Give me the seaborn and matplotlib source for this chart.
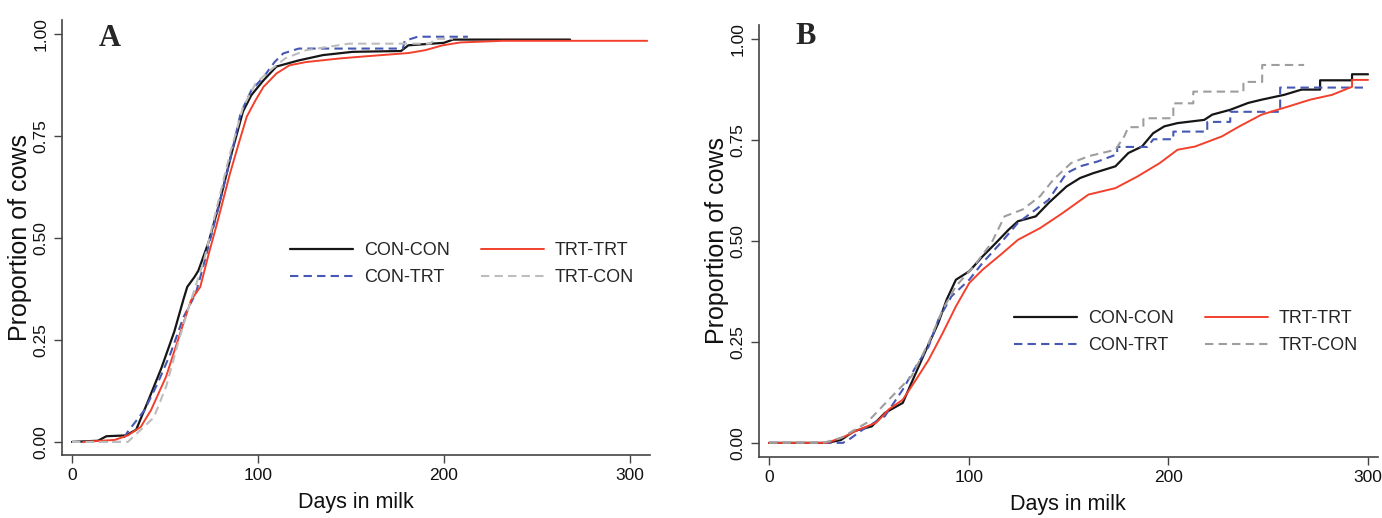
import pandas as pd
import matplotlib
matplotlib.use("Agg")
import matplotlib.pyplot as plt
import seaborn as sns

# ---- panel A (days in milk, cumulative proportion) ----
A_CONCON_DAY = [0, 14, 18.5, 29, 34.5, 40, 48, 55, 60, 62, 66, 68, 73.5, 79, 86, 92, 96.5, 103, 110, 122, 135, 151, 177, 181, 200, 205, 268]
A_CONCON_P = [0, 0.003, 0.014, 0.016, 0.03, 0.09, 0.18, 0.27, 0.35, 0.38, 0.405, 0.42, 0.49, 0.58, 0.71, 0.81, 0.85, 0.886, 0.92, 0.935, 0.948, 0.956, 0.958, 0.972, 0.978, 0.986, 0.986]

A_TRTTRT_DAY = [6, 23, 30, 37, 42.5, 50.6, 57.5, 64, 69, 73.5, 78, 85, 89.6, 94, 98.7, 103, 110, 117, 126, 144.5, 158, 181, 190, 199.5, 209, 231.6, 309.5]
A_TRTTRT_P = [0, 0.005, 0.016, 0.037, 0.078, 0.16, 0.257, 0.347, 0.38, 0.46, 0.535, 0.658, 0.73, 0.797, 0.837, 0.87, 0.903, 0.923, 0.931, 0.94, 0.945, 0.953, 0.96, 0.972, 0.979, 0.983, 0.983]

A_CONTRT_DAY = [0, 26.5, 30, 39, 46, 53, 60, 66.6, 71, 78, 85, 90.7, 96.5, 103, 109, 113.6, 122, 178, 179, 186, 213]
A_CONTRT_P = [0, 0, 0.025, 0.078, 0.143, 0.217, 0.306, 0.364, 0.437, 0.56, 0.69, 0.805, 0.862, 0.894, 0.931, 0.952, 0.964, 0.964, 0.983, 0.993, 0.993]

A_TRTCON_DAY = [0, 30, 37, 44, 50.6, 57.5, 64, 71, 78, 85, 92, 98.7, 105.6, 114.7, 126, 149, 193, 195, 205]
A_TRTCON_P = [0, 0, 0.03, 0.06, 0.135, 0.25, 0.347, 0.445, 0.576, 0.707, 0.82, 0.878, 0.907, 0.94, 0.96, 0.976, 0.976, 0.988, 0.988]

# ---- panel B ----
B_CONCON_DAY = [0, 29, 36, 42.6, 51.5, 58, 67, 71.4, 78, 84.8, 89, 93.6, 100.3, 107, 113.6, 120, 124.7, 133.6, 140, 149, 155.8, 162.4, 173.5, 180, 186.8, 192.4, 198, 204.6, 218, 222, 231, 240, 246.7, 258, 266.7, 276, 276, 292, 292, 300]
B_CONCON_P = [0, 0, 0.007, 0.029, 0.041, 0.074, 0.099, 0.149, 0.223, 0.297, 0.355, 0.404, 0.425, 0.462, 0.495, 0.528, 0.549, 0.561, 0.594, 0.635, 0.656, 0.668, 0.685, 0.718, 0.734, 0.767, 0.784, 0.792, 0.80, 0.813, 0.825, 0.842, 0.85, 0.862, 0.875, 0.875, 0.898, 0.898, 0.913, 0.913]

B_TRTTRT_DAY = [0, 29, 38, 45, 53.7, 60, 67, 73.7, 80, 87, 93.6, 100.3, 107, 116, 124.7, 135.8, 147, 160, 173.5, 184.6, 195.7, 204.6, 213.4, 226.8, 235.6, 246.7, 260, 271, 282, 292, 292, 300]
B_TRTTRT_P = [0, 0, 0.016, 0.033, 0.05, 0.083, 0.107, 0.157, 0.206, 0.272, 0.338, 0.396, 0.429, 0.466, 0.503, 0.532, 0.569, 0.615, 0.631, 0.66, 0.693, 0.726, 0.734, 0.759, 0.784, 0.813, 0.833, 0.85, 0.862, 0.882, 0.899, 0.899]

B_CONTRT_DAY = [0, 37, 40, 47, 58, 67, 73.7, 80, 84.8, 91.4, 100.3, 107, 116, 124.7, 133.6, 140, 149, 155.8, 164.6, 174.4, 174.4, 189.5, 192.5, 202.5, 202.5, 219.5, 219.5, 231, 231, 256, 256, 300]
B_CONTRT_P = [0, 0, 0.008, 0.033, 0.066, 0.132, 0.19, 0.239, 0.305, 0.363, 0.404, 0.446, 0.495, 0.545, 0.578, 0.602, 0.668, 0.685, 0.697, 0.715, 0.733, 0.733, 0.752, 0.752, 0.771, 0.771, 0.795, 0.795, 0.82, 0.82, 0.88, 0.88]

B_TRTCON_DAY = [0, 27, 36, 49, 60, 71.4, 80, 87, 93.6, 102.5, 111.4, 118, 127, 135.8, 142.4, 151.3, 160, 173.5, 178, 180, 187.5, 187.5, 202.5, 202.5, 212.5, 212.5, 237.6, 237.6, 247, 247, 268]
B_TRTCON_P = [0, 0, 0.012, 0.05, 0.107, 0.165, 0.248, 0.33, 0.388, 0.437, 0.495, 0.561, 0.578, 0.611, 0.652, 0.693, 0.71, 0.726, 0.76, 0.782, 0.782, 0.804, 0.804, 0.841, 0.841, 0.87, 0.87, 0.894, 0.894, 0.936, 0.936]

GROUPS = ["CON-CON", "CON-TRT", "TRT-TRT", "TRT-CON"]
X_TICKS = [0, 100, 200, 300]
Y_TICKS = [0.0, 0.25, 0.5, 0.75, 1.0]
Y_TICKLABELS = ["0.00", "0.25", "0.50", "0.75", "1.00"]

sns.set_style("ticks")
plt.rcParams["font.family"] = ["Liberation Sans", "DejaVu Sans"]


def draw_panel(ax, series, gray, xlim, ylim, legend_xy, letter_xy, letter):
    styles = {
        "CON-CON": dict(color="#161616", linestyle="-", linewidth=1.6),
        "CON-TRT": dict(color="#4658b4", linestyle=(0, (4, 2.5)), linewidth=1.5),
        "TRT-TRT": dict(color="#f2402c", linestyle="-", linewidth=1.4),
        "TRT-CON": dict(color=gray, linestyle=(0, (4, 2.5)), linewidth=1.5),
    }
    for name in GROUPS:
        days, props = series[name]
        df = pd.DataFrame({"day": days, "prop": props})
        sns.lineplot(data=df, x="day", y="prop", ax=ax, estimator=None,
                     label=name, **styles[name])
    ax.set_xlim(*xlim)
    ax.set_ylim(*ylim)
    ax.set_xticks(X_TICKS)
    ax.set_yticks(Y_TICKS)
    ax.set_yticklabels(Y_TICKLABELS, rotation=90, va="center")
    ax.tick_params(axis="both", labelsize=12.5, length=6, width=1, colors="#444444",
                   labelcolor="#111111")
    sns.despine(ax=ax)
    for sp in ("left", "bottom"):
        ax.spines[sp].set_linewidth(1.2)
        ax.spines[sp].set_color("#444444")
    ax.set_xlabel("Days in milk", fontsize=15.5, color="#111111", labelpad=6)
    ax.set_ylabel("Proportion of cows", fontsize=18, color="#111111", labelpad=1)
    ax.legend(loc="center left", bbox_to_anchor=legend_xy, bbox_transform=fig.transFigure,
              ncol=2, frameon=False, fontsize=13, handlelength=3.5,
              handletextpad=0.6, columnspacing=1.7, labelspacing=0.55, borderpad=0,
              borderaxespad=0)
    fig.text(letter_xy[0], letter_xy[1], letter, fontfamily=["Liberation Serif", "DejaVu Serif"],
             fontweight="bold", fontsize=22, ha="center", va="center")


W, H = 1382, 518
fig = plt.figure(figsize=(W / 100, H / 100), dpi=100)
fig.patch.set_facecolor("white")

ax_a = fig.add_axes([62 / W, 1 - 455 / H, (650 - 62) / W, (455 - 20) / H])
ax_b = fig.add_axes([758.6 / W, 1 - 457 / H, (1378 - 758.6) / W, (457 - 25) / H])

series_a = {
    "CON-CON": (A_CONCON_DAY, A_CONCON_P),
    "CON-TRT": (A_CONTRT_DAY, A_CONTRT_P),
    "TRT-TRT": (A_TRTTRT_DAY, A_TRTTRT_P),
    "TRT-CON": (A_TRTCON_DAY, A_TRTCON_P),
}
series_b = {
    "CON-CON": (B_CONCON_DAY, B_CONCON_P),
    "CON-TRT": (B_CONTRT_DAY, B_CONTRT_P),
    "TRT-TRT": (B_TRTTRT_DAY, B_TRTTRT_P),
    "TRT-CON": (B_TRTCON_DAY, B_TRTCON_P),
}

draw_panel(ax_a, series_a, "#bdbdbd", (-5.4, 311), (-0.032, 1.034),
           (290 / W, 1 - 264 / H), (110 / W, 1 - 38 / H), "A")
draw_panel(ax_b, series_b, "#9e9e9e", (-5.2, 305), (-0.035, 1.035),
           (1014 / W, 1 - 332 / H), (806 / W, 1 - 36 / H), "B")

fig.savefig("out.png", dpi=100, facecolor="white")
